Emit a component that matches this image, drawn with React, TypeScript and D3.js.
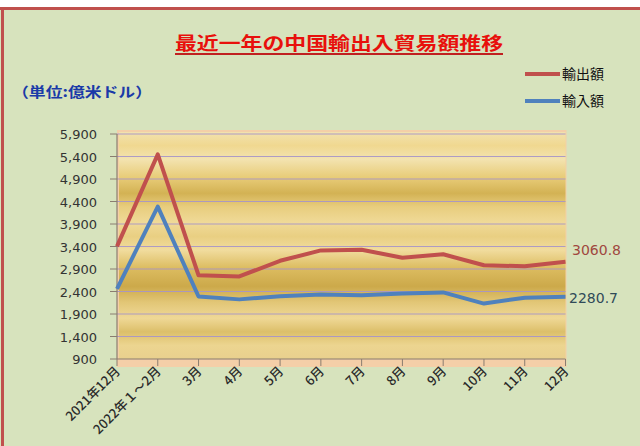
import React from "react";
import * as d3 from "d3";

const categories = ["2021年12月", "2022年１～2月", "3月", "4月", "5月", "6月", "7月", "8月", "9月", "10月", "11月", "12月"];
const exportsData = [3404, 5447, 2761, 2736, 3082, 3313, 3329, 3149, 3227, 2983, 2961, 3060.8];
const importsData = [2460, 4286, 2288, 2225, 2294, 2334, 2317, 2356, 2380, 2132, 2263, 2280.7];
const yTicks = [900, 1400, 1900, 2400, 2900, 3400, 3900, 4400, 4900, 5400, 5900];
const seriesNames = ["輸出額", "輸入額"];

const W = 640, H = 446;
const left = 117, right = 565.5, top = 134, bottom = 359;

export default function App() {
  const x = d3.scalePoint<string>().domain(categories).range([left, right]);
  const y = d3.scaleLinear().domain([900, 5900]).range([bottom, top]);
  const line = d3.line<number>().x((_, i) => x(categories[i])!).y((d) => y(d));
  const fmt = d3.format(",");
  const jp = "'Noto Sans CJK JP', sans-serif";
  const num = "'DejaVu Sans', Verdana, sans-serif";
  const stops: [number, string][] = [
    [0, "#f2e2ae"], [0.06, "#f0d890"], [0.12, "#f3e3b0"], [0.2, "#e8cc78"], [0.27, "#d3b254"],
    [0.33, "#e8cd7e"], [0.4, "#f0da98"], [0.46, "#e9cf82"], [0.52, "#f1dc9e"], [0.6, "#dcbc60"],
    [0.68, "#cca94a"], [0.75, "#e2c676"], [0.82, "#efd896"], [0.88, "#dcbf6a"], [0.94, "#ecd590"], [1, "#e9d08e"],
  ];
  return (
    <svg width={W} height={H} style={{ position: "absolute", left: 0, top: 0 }}>
      <defs>
        <linearGradient id="bg" x1="0" y1="0" x2="0" y2="1">
          {stops.map(([o, c], i) => <stop key={i} offset={o} stopColor={c} />)}
        </linearGradient>
      </defs>
      <rect x={0} y={0} width={W} height={H} fill="#d7e3bd" />
      <rect x={0} y={0} width={W} height={7} fill="#ffffff" />
      <rect x={0} y={7} width={W} height={3} fill="#c0504d" />
      <rect x={1} y={7} width={3} height={H - 7} fill="#c0504d" />

      <text x={339} y={50} textAnchor="middle" fill="#e8100c" fontFamily={jp} fontWeight="bold" fontSize={18}
        textLength={328} lengthAdjust="spacingAndGlyphs">最近一年の中国輸出入貿易額推移</text>
      <rect x={175} y={53} width={328} height={2} fill="#c02020" />

      <text x={12} y={97} fill="#1a3aa8" fontFamily={jp} fontWeight="bold" fontSize={14}
        textLength={140} lengthAdjust="spacingAndGlyphs">（単位:億米ドル）</text>

      <line x1={525} x2={560} y1={74} y2={74} stroke="#c0504d" strokeWidth={4} />
      <text x={562} y={79} fill="#111" fontFamily={jp} fontSize={14}>{seriesNames[0]}</text>
      <line x1={525} x2={560} y1={101} y2={101} stroke="#4f81bd" strokeWidth={4} />
      <text x={562} y={106} fill="#111" fontFamily={jp} fontSize={14}>{seriesNames[1]}</text>

      <rect x={left} y={130} width={right - left + 1} height={237} fill="#f4cfa8" />
      <rect x={left + 2} y={top - 2} width={right - left - 2} height={bottom - top + 2} fill="url(#bg)" />

      {yTicks.slice(1).map((t) => (
        <line key={t} x1={left} x2={right} y1={y(t)} y2={y(t)} stroke="#a795c8" strokeWidth={1.2} opacity={0.9} />
      ))}

      <line x1={left} x2={left} y1={top} y2={bottom} stroke="#8a7d70" strokeWidth={1.2} />
      <line x1={left} x2={right} y1={bottom} y2={bottom} stroke="#8a7d70" strokeWidth={1.2} />
      {yTicks.map((t) => (
        <g key={t}>
          <line x1={left - 7} x2={left} y1={y(t)} y2={y(t)} stroke="#8a7d70" />
          <text x={97} y={y(t) + 5} textAnchor="end" fill="#333" fontFamily={num} fontSize={13}>{fmt(t)}</text>
        </g>
      ))}
      {categories.map((c) => (
        <g key={c}>
          <line x1={x(c)} x2={x(c)} y1={bottom} y2={bottom + 7} stroke="#8a7d70" />
          <text transform={`translate(${x(c)! + 4},${bottom + 13}) rotate(-45)`} textAnchor="end" fill="#2a2a2a"
            fontFamily={jp} fontWeight={500} fontSize={13}>{c}</text>
        </g>
      ))}

      <path d={line(exportsData)!} fill="none" stroke="#c0504d" strokeWidth={4} strokeLinejoin="round" />
      <path d={line(importsData)!} fill="none" stroke="#4f81bd" strokeWidth={4} strokeLinejoin="round" />

      <text x={572} y={y(exportsData[11]) - 7} fill="#a04840" fontFamily={num} fontSize={14}>{exportsData[11]}</text>
      <text x={569} y={y(importsData[11]) + 6} fill="#2f4a58" fontFamily={num} fontSize={14}>{importsData[11]}</text>
    </svg>
  );
}
